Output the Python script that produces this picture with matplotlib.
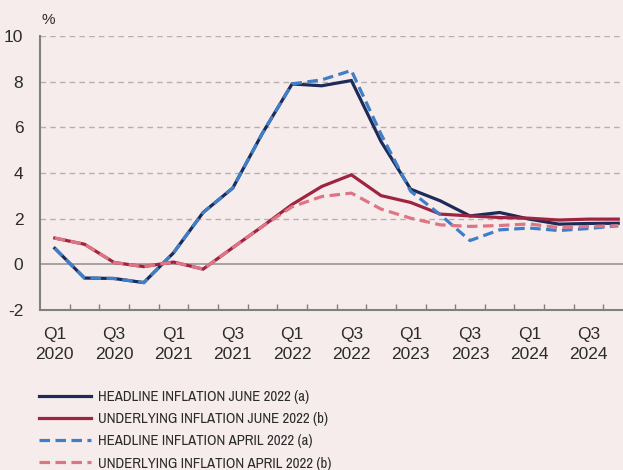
"""Headline vs underlying inflation, June 2022 vs April 2022 forecasts."""
# %% Imports
from matplotlib import pyplot as plt
from matplotlib.ticker import FixedLocator
from matplotlib import font_manager

# %% Data (quarterly, Q1 2020 - Q4 2024)
quarters = ["Q1\n2020", "Q2\n2020", "Q3\n2020", "Q4\n2020",
            "Q1\n2021", "Q2\n2021", "Q3\n2021", "Q4\n2021",
            "Q1\n2022", "Q2\n2022", "Q3\n2022", "Q4\n2022",
            "Q1\n2023", "Q2\n2023", "Q3\n2023", "Q4\n2023",
            "Q1\n2024", "Q2\n2024", "Q3\n2024", "Q4\n2024"]

headline_jun = [0.7, -0.6, -0.62, -0.8, 0.5, 2.27, 3.34, 5.74, 7.9, 7.82,
                8.05, 5.38, 3.29, 2.78, 2.12, 2.27, 1.98, 1.76, 1.79, 1.80]
underlying_jun = [1.15, 0.88, 0.08, -0.1, 0.1, -0.21, 0.73, 1.66, 2.62, 3.41,
                  3.92, 3.01, 2.71, 2.2, 2.12, 2.05, 2.02, 1.94, 1.98, 1.98]
headline_apr = [0.7, -0.6, -0.62, -0.8, 0.5, 2.27, 3.34, 5.74, 7.9, 8.08,
                8.49, 5.7, 3.2, 2.17, 1.04, 1.51, 1.59, 1.48, 1.57, 1.69]
underlying_apr = [1.15, 0.88, 0.08, -0.1, 0.1, -0.21, 0.73, 1.66, 2.52, 2.97,
                  3.12, 2.42, 2.02, 1.73, 1.66, 1.70, 1.77, 1.61, 1.66, 1.69]

labels = ["HEADLINE INFLATION JUNE 2022 (a)",
          "UNDERLYING INFLATION JUNE 2022 (b)",
          "HEADLINE INFLATION APRIL 2022 (a)",
          "UNDERLYING INFLATION APRIL 2022 (b)"]

# %% Style
BG = "#f7ecec"
NAVY = "#1c2b57"
RED = "#9e2440"
BLUE = "#3f7fc9"
PINK = "#de7585"
GREY = "#808080"
TXT = "#2b2b2b"

plt.rcParams["font.family"] = ["Liberation Sans", "DejaVu Sans"]

# narrow face for the legend if one is installed
def plain(f):
    n = f.fname.lower()
    return not any(w in n for w in ["bold", "oblique", "italic"])

fonts = [f for f in font_manager.fontManager.ttflist if plain(f)]
narrow = [f for f in fonts if "narrow" in f.fname.lower()]
cond = [f for f in fonts if "condensed" in f.fname.lower()]
leg_size = 10.7
if narrow:
    leg_prop = font_manager.FontProperties(fname=narrow[0].fname, size=leg_size)
elif cond:
    leg_prop = font_manager.FontProperties(fname=cond[0].fname, size=leg_size)
else:
    leg_prop = font_manager.FontProperties(size=leg_size)

# %% Plot
x = list(range(len(quarters)))

fig = plt.figure(figsize=(6.23, 4.70), dpi=100, facecolor=BG)
ax = fig.add_axes([40 / 623, 160 / 470, 583 / 623, 274 / 470], facecolor=BG)

lw = 2.3
l1, = ax.plot(x, headline_jun, color=NAVY, lw=lw, zorder=3,
              solid_joinstyle="miter")
l2, = ax.plot(x, underlying_jun, color=RED, lw=lw, zorder=3,
              solid_joinstyle="miter")
l3, = ax.plot(x, headline_apr, color=BLUE, lw=lw, zorder=4,
              dashes=(3.3, 1.7), dash_capstyle="butt")
l4, = ax.plot(x, underlying_apr, color=PINK, lw=lw, zorder=4,
              dashes=(3.3, 1.7), dash_capstyle="butt")

ax.set_xlim(-0.5, 19.16)
ax.set_ylim(-2, 10)

# grid
for yv in [2, 4, 6, 8, 10]:
    ax.axhline(yv, color="#b5b0b0", lw=1.0, dashes=(4, 3), zorder=1)
ax.axhline(0, color="#9a9696", lw=1.2, zorder=1)

# spines
for s in ["top", "right"]:
    ax.spines[s].set_visible(False)
for s in ["left", "bottom"]:
    ax.spines[s].set_color(GREY)
    ax.spines[s].set_linewidth(1.5)

# y axis
ax.set_yticks([-2, 0, 2, 4, 6, 8, 10])
ax.set_yticklabels(["-2", "0", "2", "4", "6", "8", "10"])
ax.tick_params(axis="y", length=0, pad=12, labelsize=12.5, labelcolor=TXT)

# x axis: labels every second quarter, ticks between quarters
ax.set_xticks(x[::2])
ax.set_xticklabels(quarters[::2])
ax.xaxis.set_minor_locator(FixedLocator([k - 0.5 for k in range(1, 20)]))
ax.tick_params(axis="x", which="major", length=0, pad=12, labelsize=12.5,
               labelcolor=TXT)
ax.tick_params(axis="x", which="minor", direction="in", length=4,
               width=1.0, color=GREY)
for t in ax.get_xticklabels():
    t.set_linespacing(1.45)

fig.text(41 / 623, 1 - 20 / 470, "%", fontsize=11, color=TXT,
         ha="left", va="center")

# legend
fs_px = leg_size * 100 / 72
leg = fig.legend([l1, l2, l3, l4], labels, loc="upper left",
                 bbox_to_anchor=(39 / 623, 1 - 390 / 470), frameon=False,
                 borderpad=0, borderaxespad=0,
                 handlelength=52 / fs_px, handletextpad=7 / fs_px,
                 labelspacing=0.55, prop=leg_prop)
for t in leg.get_texts():
    t.set_color(TXT)

fig.savefig("out.png", dpi=100, facecolor=BG)
